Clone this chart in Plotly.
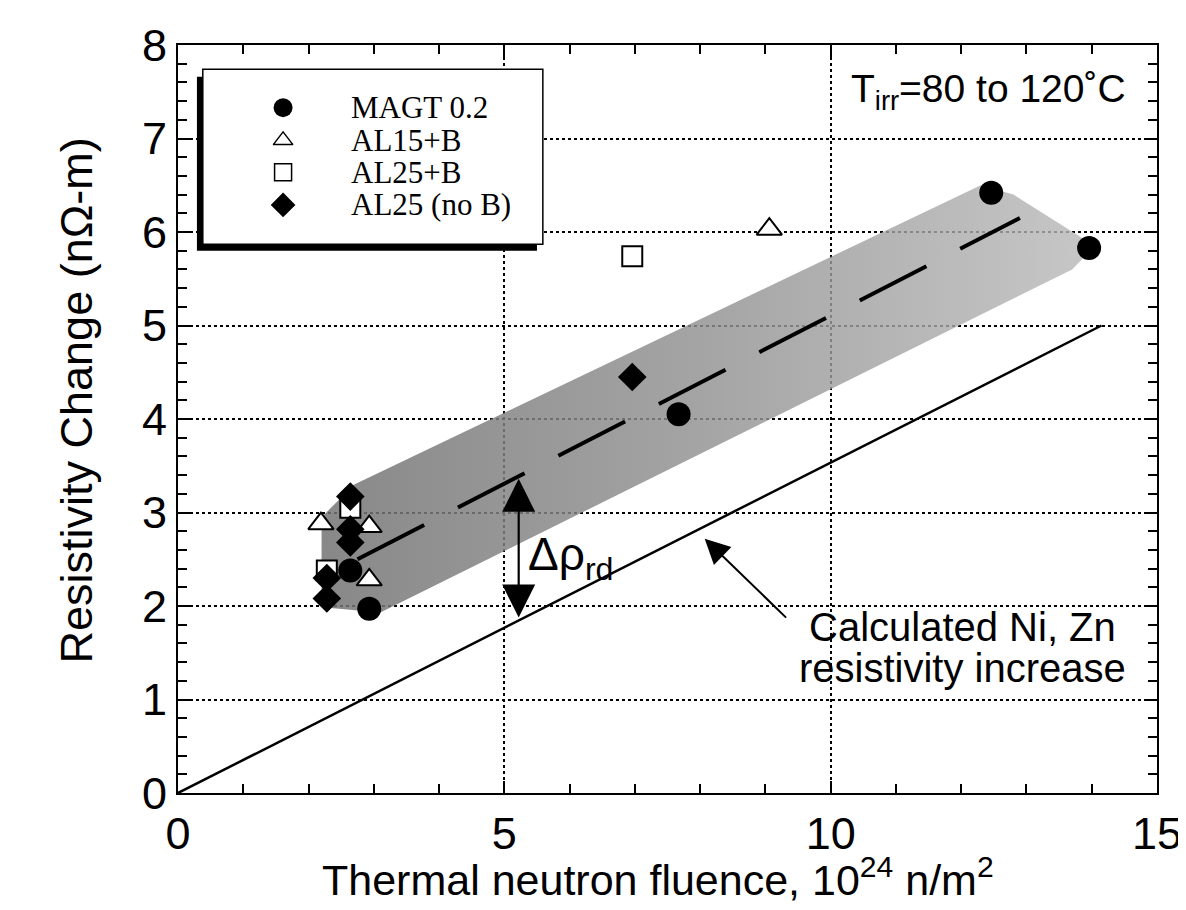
import plotly.graph_objects as go

# ---- data ----
magt_x = [12.46, 13.96, 7.67, 2.93, 2.64]
magt_y = [6.42, 5.83, 4.05, 1.97, 2.38]

al15_x = [9.06, 2.19, 2.93, 2.93]
al15_y = [6.03, 2.88, 2.85, 2.28]

al25b_x = [6.96, 2.64, 2.28]
al25b_y = [5.74, 3.05, 2.38]

al25_x = [6.96, 2.64, 2.64, 2.64, 2.28, 2.28]
al25_y = [4.45, 3.17, 2.82, 2.68, 2.30, 2.08]

calc_x = [0.0, 14.15]
calc_y = [0.0, 5.0]

trend_x = [2.75, 12.9]
trend_y = [2.5, 6.15]

band_x = [2.2, 2.2, 2.7, 12.3, 12.8, 14.05, 13.7, 3.1, 2.3, 2.2]
band_y = [2.05, 2.95, 3.3, 6.5, 6.4, 5.85, 5.6, 1.93, 1.98, 2.05]

x_ticks = [0, 5, 10, 15]
y_ticks = [0, 1, 2, 3, 4, 5, 6, 7, 8]

series_names = ["MAGT 0.2", "AL15+B", "AL25+B", "AL25 (no B)"]

# legend layout (positions in axis units)
LEG_SYM_X = 1.61
LEG_TXT_X = 2.62
LEG_ROWS = [7.33, 6.98, 6.64, 6.29]

SANS = "Liberation Sans, Arial, sans-serif"
SERIF = "Liberation Serif, Times New Roman, serif"

styles = [
    dict(symbol="circle", color="black", line=dict(width=0)),
    dict(symbol="triangle-up", color="white", line=dict(color="black", width=2)),
    dict(symbol="square", color="white", line=dict(color="black", width=2)),
    dict(symbol="diamond", color="black", line=dict(width=0)),
]
sizes = [24, 22, 20, 22]
leg_sizes = [19, 17, 17, 19]
xs = [magt_x, al15_x, al25b_x, al25_x]
ys = [magt_y, al15_y, al25b_y, al25_y]

fig = go.Figure()

# shaded band
fig.add_trace(go.Scatter(
    x=band_x, y=band_y, mode="lines", fill="toself",
    line=dict(width=0, color="rgba(0,0,0,0)"),
    fillgradient=dict(type="horizontal",
                      colorscale=[[0, "rgba(115,115,115,0.85)"],
                                  [0.5, "rgba(145,145,145,0.82)"],
                                  [1, "rgba(185,185,185,0.8)"]]),
    showlegend=False, hoverinfo="skip"))

# calculated line
fig.add_trace(go.Scatter(x=calc_x, y=calc_y, mode="lines",
                         line=dict(color="black", width=2.5), showlegend=False))
# dashed trend
fig.add_trace(go.Scatter(x=trend_x, y=trend_y, mode="lines",
                         line=dict(color="black", width=4, dash="75px,38px"),
                         showlegend=False))

# data markers (draw order: squares, triangles, circles, diamonds)
for i in [2, 1, 0, 3]:
    fig.add_trace(go.Scatter(x=xs[i], y=ys[i], mode="markers", name=series_names[i],
                             showlegend=False,
                             marker=dict(size=sizes[i], **styles[i])))

# legend box with shadow (between grid and traces)
fig.add_shape(type="rect", xref="x", yref="y", x0=0.29, x1=5.50, y0=5.80, y1=7.66,
              fillcolor="black", line=dict(width=0), layer="between")
fig.add_shape(type="rect", xref="x", yref="y", x0=0.38, x1=5.59, y0=5.87, y1=7.74,
              fillcolor="white", line=dict(color="black", width=1.5), layer="between")

# legend keys
for i in range(4):
    st = dict(styles[i])
    if st["line"].get("width", 0):
        st["line"] = dict(color="black", width=1.5)
    fig.add_trace(go.Scatter(x=[LEG_SYM_X], y=[LEG_ROWS[i]], mode="markers",
                             showlegend=False, hoverinfo="skip",
                             marker=dict(size=leg_sizes[i], **st)))
    fig.add_annotation(x=LEG_TXT_X, y=LEG_ROWS[i], xref="x", yref="y",
                       xanchor="left", yanchor="middle", text=series_names[i],
                       showarrow=False,
                       font=dict(family=SERIF, size=31, color="black"))

# annotations
fig.add_annotation(x=14.55, y=7.5, xref="x", yref="y", xanchor="right",
                   text="T<sub>irr</sub>=80 to 120˚C", showarrow=False,
                   font=dict(family=SANS, size=39, color="black"))
fig.add_annotation(x=5.33, y=2.52, xref="x", yref="y", xanchor="left",
                   text="Δρ<sub>rd</sub>", showarrow=False,
                   font=dict(family=SANS, size=46, color="black"))
fig.add_annotation(x=5.22, y=3.36, ax=5.22, ay=1.86, xref="x", yref="y",
                   axref="x", ayref="y", text="", showarrow=True,
                   arrowhead=2, startarrowhead=2, arrowside="end+start",
                   arrowsize=3, startarrowsize=3, arrowwidth=2.2, arrowcolor="black")
fig.add_annotation(x=8.07, y=2.72, ax=9.34, ay=1.86, xref="x", yref="y",
                   axref="x", ayref="y", text="", showarrow=True,
                   arrowhead=2, arrowsize=2.5, arrowwidth=2, arrowcolor="black")
fig.add_annotation(x=12.02, y=1.78, xref="x", yref="y",
                   text="Calculated Ni, Zn", showarrow=False,
                   font=dict(family=SANS, size=40, color="black"))
fig.add_annotation(x=12.02, y=1.34, xref="x", yref="y",
                   text="resistivity increase", showarrow=False,
                   font=dict(family=SANS, size=40, color="black"))

# axis titles as annotations for exact placement
fig.add_annotation(x=0.49, y=-0.112, xref="paper", yref="paper",
                   xanchor="center", yanchor="middle", showarrow=False,
                   text="Thermal neutron fluence, 10<sup>24</sup> n/m<sup>2</sup>",
                   font=dict(family=SANS, size=43, color="black"))
fig.add_annotation(x=-0.104, y=4.2, xref="paper", yref="y",
                   xanchor="center", yanchor="middle", showarrow=False, textangle=-90,
                   text="Resistivity Change (nΩ-m)",
                   font=dict(family=SANS, size=45, color="black"))

axis_common = dict(showline=True, linecolor="black", linewidth=2, mirror="ticks",
                   ticks="inside", tickcolor="black", tickwidth=2, ticklen=12,
                   showgrid=True, gridcolor="black", gridwidth=1.5, griddash="dot",
                   zeroline=False, tickfont=dict(family=SANS, size=45, color="black"))

fig.update_xaxes(range=[0, 15], tickvals=x_ticks,
                 minor=dict(dtick=1, ticks="inside", ticklen=9, tickwidth=1.5,
                            tickcolor="black", showgrid=False),
                 **axis_common)
fig.update_yaxes(range=[0, 8], tickvals=y_ticks,
                 minor=dict(dtick=0.2, ticks="inside", ticklen=9, tickwidth=1.5,
                            tickcolor="black", showgrid=False),
                 **axis_common)

fig.update_layout(
    width=1186, height=910,
    margin=dict(l=170, r=36, t=28, b=125),
    plot_bgcolor="white", paper_bgcolor="white",
    showlegend=False,
)

fig.write_html("out.html")
